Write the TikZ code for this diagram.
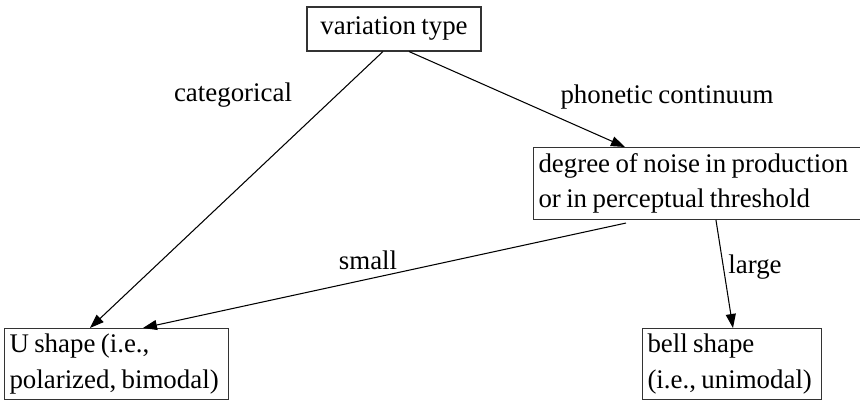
\documentclass[tikz,border=0pt]{standalone}
\usepackage{fontspec}
\setmainfont{Liberation Serif}
\newfontfamily\timesfont[WordSpace={0.8,0,0}]{Liberation Serif}
\newcommand\diagfont{\timesfont\fontsize{15.3}{20}\selectfont}
\newcommand\tightspaces{\spaceskip 0.2em\relax\xspaceskip 0.2em\relax}
\usepackage{tikz}
\usetikzlibrary{arrows.meta,positioning}

\begin{document}
\begin{tikzpicture}[
  x=0.02cm, y=-0.02cm,
  every node/.style={font=\diagfont},
  box/.style={draw=black!80, line width=0.6pt, inner xsep=0.1cm, inner ysep=0pt, align=left, anchor=north west, execute at begin node=\tightspaces},
  lbl/.style={inner sep=0pt},
  arrow/.style={-{Triangle[length=0.28cm,width=0.2cm]}, line width=0.6pt}
]
\clip (0,0) rectangle (860,402);
\fill[white] (0,0) rectangle (860,402);

\node[draw=black!80, line width=0.6pt, inner sep=0pt, minimum width=3.48cm, minimum height=0.88cm] (vartype) at (394,29) {variation type};
\node[box, text width=6.5cm, minimum height=1.44cm] (noise) at (533,147) {degree of noise in production\\or in perceptual threshold};
\node[box, text width=4.28cm, minimum height=1.42cm] (ushape) at (4,328) {U shape (i.e.,\\polarized, bimodal)};
\node[box, text width=3.38cm, minimum height=1.42cm] (bell) at (642,328) {bell shape\\(i.e., unimodal)};

\draw[arrow] ([xshift=-0.22cm]vartype.south) -- ([xshift=1.72cm]ushape.north west);
\draw[arrow] ([xshift=0.3cm]vartype.south) -- ([xshift=1.84cm]noise.north west);
\draw[arrow] ([xshift=1.86cm,yshift=-0.06cm]noise.south west) -- ([xshift=2.78cm]ushape.north west);
\draw[arrow] ([xshift=3.66cm]noise.south west) -- ([xshift=1.82cm]bell.north west);

\node[lbl] (catlbl) at (233,95) {categorical};
\node[lbl] (phonlbl) at (667,97) {phonetic continuum};
\node[lbl] (smalllbl) at (368,260) {small};
\node[lbl] (largelbl) at (755,267) {large};
\end{tikzpicture}
\end{document}
